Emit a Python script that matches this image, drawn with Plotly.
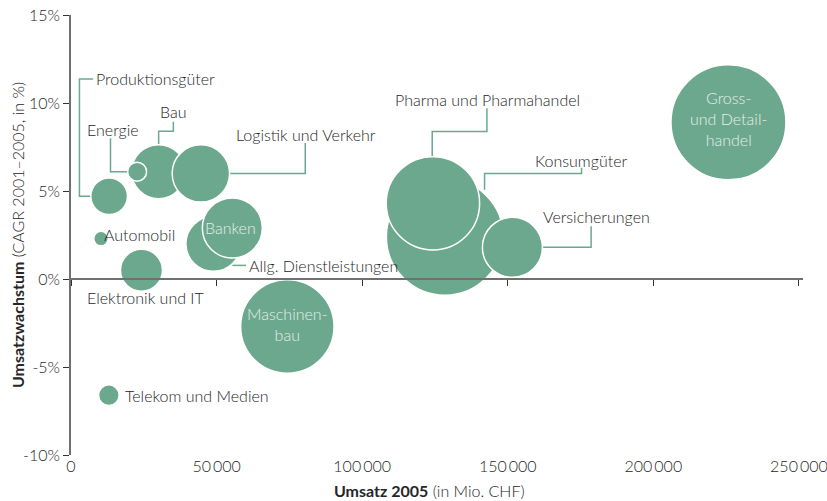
import plotly.graph_objects as go

# ---------------- data ----------------
sectors = [
    "Konsumgüter", "Pharma und Pharmahandel", "Versicherungen",
    "Allg. Dienstleistungen", "Banken", "Bau", "Logistik und Verkehr",
    "Energie", "Produktionsgüter", "Automobil", "Elektronik und IT",
    "Maschinenbau", "Telekom und Medien", "Gross- und Detailhandel",
]
umsatz_2005 = [128400, 124300, 151600, 48900, 55400, 30100, 44600,
               22700, 13100, 10300, 24200, 74300, 13000, 225800]
wachstum = [2.4, 4.3, 1.8, 2.0, 2.9, 6.1, 6.0,
            6.1, 4.7, 2.3, 0.5, -2.7, -6.6, 8.9]
bubble_value = [3420, 2180, 900, 756, 900, 729, 824,
                90, 335, 53, 441, 2180, 106, 3306]

x_tickvals = [0, 50000, 100000, 150000, 200000, 250000]
x_ticktext = ["0", "50\u2009000", "100\u2009000", "150\u2009000", "200\u2009000", "250\u2009000"]
y_tickvals = [-10, -5, 0, 5, 10, 15]
y_ticktext = ["-10%", "-5%", "0%", "5%", "10%", "15%"]

# ---------------- style ----------------
GREEN = "#6ba88e"
TEXT = "#262626"
INNER = "#e6efe9"
AXIS = "#707070"
FONT = "Lato"
FS = 16
FW = 300
X_RANGE = [0, 251400]

# label placement (pixel offsets from bubble centre, screen y downwards)
labels = {
    "Produktionsgüter": ("Produktionsgüter", -15.5, -117.3, "left", TEXT,
                         [(-19, 0), (-29.7, 0), (-29.7, -117.3), (-16, -117.3)]),
    "Energie": ("Energie", -24.3, -42.3, "center", TEXT,
                [(-9.3, 0), (-26.6, 0), (-26.6, -33.3)]),
    "Bau": ("Bau", 14.5, -60.5, "center", TEXT,
            [(0, -27), (0, -40.3), (14.7, -40.3), (14.7, -50)]),
    "Logistik und Verkehr": ("Logistik und Verkehr", 105, -39.3, "center", TEXT,
                             [(28.7, 0), (104.4, 0), (104.4, -30.3)]),
    "Allg. Dienstleistungen": ("Allg. Dienstleistungen", 33.5, 21.8, "left", TEXT,
                               [(19, 21.6), (32.7, 21.6)]),
    "Automobil": ("Automobil", 0.7, -4.5, "left", TEXT, None),
    "Elektronik und IT": ("Elektronik und IT", 5, 27.7, "center", TEXT, None),
    "Maschinenbau": ("Maschinen-<br>bau", 0, -2.5, "center", INNER, None),
    "Telekom und Medien": ("Telekom und Medien", 14, 0, "left", TEXT, None),
    "Pharma und Pharmahandel": ("Pharma und Pharmahandel", 54.3, -104, "center", TEXT,
                                [(-0.7, -47), (-0.7, -71.7), (54, -71.7), (54, -95)]),
    "Konsumgüter": ("Konsumgüter", 135.8, -76.7, "center", TEXT,
                    [(39.7, -47), (39.7, -63.3), (136.7, -63.3), (136.7, -69)]),
    "Versicherungen": ("Versicherungen", 83.7, -31, "center", TEXT,
                       [(30, 0), (78.7, 0), (78.7, -21)]),
    "Banken": ("Banken", -2, 0, "center", INNER, None),
    "Gross- und Detailhandel": ("Gross-<br>und Detail-<br>handel", 0, -4, "center", INNER, None),
}

fig = go.Figure()

fig.add_trace(go.Scatter(
    x=umsatz_2005, y=wachstum, mode="markers",
    text=sectors, hoverinfo="text",
    marker=dict(size=bubble_value, sizemode="area", sizeref=0.5,
                color=GREEN, opacity=1,
                line=dict(color="white", width=1.5)),
    showlegend=False,
))

# invisible trace to carry the zero-line axis
fig.add_trace(go.Scatter(x=[x_tickvals[0], x_tickvals[-1]], y=[0, 0], xaxis="x2", yaxis="y",
                         mode="markers", marker=dict(opacity=0), hoverinfo="skip",
                         showlegend=False))

annotations = []
shapes = []
for s, xv, yv in zip(sectors, umsatz_2005, wachstum):
    txt, dx, dy, xa, col, path = labels[s]
    annotations.append(dict(
        x=xv, y=yv, xref="x", yref="y", text=txt, showarrow=False,
        xshift=dx, yshift=-dy, xanchor=xa, yanchor="middle",
        font=dict(family=FONT, size=FS, color=col, weight=FW),
    ))
    if path:
        d = "M " + " L ".join(f"{px},{-py}" for px, py in path)
        shapes.append(dict(
            type="path", xref="x", yref="y", xsizemode="pixel", ysizemode="pixel",
            xanchor=xv, yanchor=yv, path=d,
            line=dict(color=GREEN, width=1.5), layer="below",
        ))

# axis titles
annotations.append(dict(
    x=0, y=0.5, xref="paper", yref="paper", xanchor="center", yanchor="middle",
    xshift=-54, textangle=-90, showarrow=False,
    text="<b>Umsatzwachstum</b> (CAGR 2001–2005, in %)",
    font=dict(family=FONT, size=16, color=TEXT, weight=FW),
))
annotations.append(dict(
    x=0.5, y=0, xref="paper", yref="paper", xanchor="center", yanchor="middle",
    xshift=-8, yshift=-35, showarrow=False,
    text="<b>Umsatz 2005</b> (in Mio. CHF)",
    font=dict(family=FONT, size=FS, color=TEXT, weight=FW),
))

fig.update_layout(
    width=827, height=501,
    margin=dict(l=71, r=24, t=15, b=46),
    paper_bgcolor="white", plot_bgcolor="white",
    font=dict(family=FONT, size=FS, color=TEXT, weight=FW),
    annotations=annotations, shapes=shapes,
    xaxis=dict(
        range=X_RANGE, tickvals=x_tickvals, ticktext=x_ticktext,
        showline=False, ticks="", showgrid=False, zeroline=False,
        tickfont=dict(family=FONT, size=FS, color=TEXT, weight=FW),
        ticklabeloverflow="allow",
        automargin=False, fixedrange=True,
    ),
    xaxis2=dict(
        overlaying="x", anchor="free", position=0.4, side="bottom",
        range=X_RANGE, tickvals=x_tickvals, showticklabels=False,
        showline=True, linecolor=AXIS, linewidth=1.5,
        ticks="outside", ticklen=6, tickwidth=1.2, tickcolor="#333333",
        showgrid=False, zeroline=False,
    ),
    yaxis=dict(
        range=[-10, 15], tickvals=y_tickvals, ticktext=y_ticktext,
        showline=True, linecolor=AXIS, linewidth=1.5,
        ticks="outside", ticklen=6, tickwidth=1.2, tickcolor="#333333",
        showgrid=False, zeroline=False,
        tickfont=dict(family=FONT, size=16, color=TEXT, weight=FW),
        ticklabeloverflow="allow",
        automargin=False,
    ),
)

# remove the browser's default 8px body margin so the figure fills the window
fig.write_html("out.html", config={"displayModeBar": False},
               post_script="document.body.style.margin='0';")
